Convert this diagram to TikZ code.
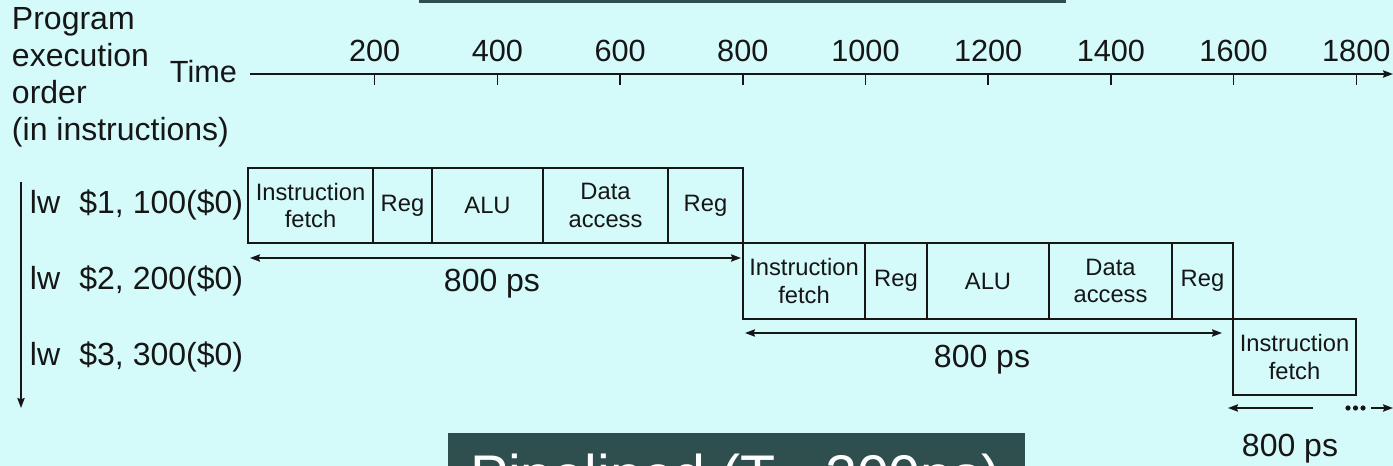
\documentclass[tikz,border=0pt]{standalone}
\usepackage{fontspec}
\setmainfont{Liberation Sans}
\usetikzlibrary{arrows.meta}
\definecolor{bgc}{RGB}{212,250,250}
\definecolor{darkbox}{RGB}{47,79,79}
\definecolor{ink}{RGB}{22,22,22}
\begin{document}
\begin{tikzpicture}[x=0.75pt,y=-0.75pt,
  every node/.style={inner sep=0pt, outer sep=0pt, text=ink},
  stagebox/.style={draw=ink, line width=1.1pt, align=center,
    font=\fontsize{17.8}{20.5}\selectfont},
  sz/.style 2 args={minimum width=#1*0.75pt, minimum height=#2*0.75pt},
  lbl/.style={font=\fontsize{23}{27}\selectfont},
  biglbl/.style={font=\fontsize{24}{28}\selectfont},
  axisline/.style={draw=ink, line width=1.1pt},
  arr/.style={draw=ink, line width=1.1pt, -{Stealth[length=7.5pt,width=5.5pt,inset=1pt]}},
  darr/.style={draw=ink, line width=1.1pt, {Stealth[length=7.5pt,width=5.5pt,inset=1pt]}-{Stealth[length=7.5pt,width=5.5pt,inset=1pt]}},
  title/.style={font=\fontsize{43}{50}\selectfont, text=white}
]
\useasboundingbox (0,0) rectangle (1393,466);
\fill[bgc] (0,0) rectangle (1393,466);

% dark title boxes (clipped by the page)
\begin{scope}
\clip (0,0) rectangle (1393,466);
\fill[darkbox] (419,-10) rectangle (1066,3.5);
\fill[darkbox] (448,433) rectangle (1025,480);
\node[title, anchor=base west] (ttl) at (470,496) {Pipelined (T= 200ps)};
\end{scope}

% left heading
\node[biglbl, anchor=base west] (h1) at (12,30) {Program};
\node[biglbl, anchor=base west] (h2) at (12,67) {execution};
\node[biglbl, anchor=base west] (h3) at (12,104) {order};
\node[biglbl, anchor=base west] (h4) at (12,141) {(in instructions)};

% time axis
\node[lbl, anchor=base east] (time) at (237,83) {Time};
\coordinate (t0) at (250,74);
\coordinate (tend) at (1393,74);
\draw[arr] (t0) -- (tend);
\foreach \t in {200,400,...,1800}{
  \pgfmathsetmacro{\xx}{252+0.6135*\t}
  \coordinate (tk\t) at (\xx,74);
  \draw[axisline] (tk\t) -- ++(0,11);
  \node[lbl, anchor=base] (tl\t) at (\xx,62) {\t};
}

% program order arrow
\coordinate (po1) at (21,182);
\coordinate (po2) at (21,408);
\draw[arr] (po1) -- (po2);

% instruction labels
\node[biglbl, anchor=base west] (i1) at (30,214) {lw\hspace{0.6em}\$1, 100(\$0)};
\node[biglbl, anchor=base west] (i2) at (30,290) {lw\hspace{0.6em}\$2, 200(\$0)};
\node[biglbl, anchor=base west] (i3) at (30,366) {lw\hspace{0.6em}\$3, 300(\$0)};

% row 1
\node[stagebox, sz={125}{75}] (if1) at (310.5,205.5) {Instruction\\fetch};
\node[stagebox, sz={59}{75}] (rga1) at (402.5,205.5) {Reg};
\node[stagebox, sz={111}{75}] (alu1) at (487.5,205.5) {ALU};
\node[stagebox, sz={125}{75}] (da1) at (605.5,205.5) {Data\\access};
\node[stagebox, sz={75}{75}] (rgb1) at (705.5,205.5) {Reg};

% row 2
\node[stagebox, sz={122}{76}] (if2) at (804,281) {Instruction\\fetch};
\node[stagebox, sz={62}{76}] (rga2) at (896,281) {Reg};
\node[stagebox, sz={122}{76}] (alu2) at (988,281) {ALU};
\node[stagebox, sz={123}{76}] (da2) at (1110.5,281) {Data\\access};
\node[stagebox, sz={61}{76}] (rgb2) at (1202.5,281) {Reg};

% row 3
\node[stagebox, sz={123}{76}] (if3) at (1294.5,357) {Instruction\\fetch};

% 800 ps spans
\coordinate (a1l) at (250,258);
\coordinate (a1r) at (741,258);
\draw[darr] (a1l) -- (a1r);
\node[biglbl, anchor=base] (p1) at (492,292) {800 ps};

\coordinate (a2l) at (745,333);
\coordinate (a2r) at (1222,333);
\draw[darr] (a2l) -- (a2r);
\node[biglbl, anchor=base] (p2) at (982,368) {800 ps};

\coordinate (a3a) at (1313,408);
\coordinate (a3b) at (1228,408);
\draw[arr] (a3a) -- (a3b);
\foreach \d in {1348,1355.5,1363}{\fill[ink] (\d,408) circle (2.6);}
\coordinate (a3c) at (1371,408);
\coordinate (a3d) at (1393,408);
\draw[arr] (a3c) -- (a3d);
\node[biglbl, anchor=base] (p3) at (1290,457) {800 ps};
\end{tikzpicture}
\end{document}
